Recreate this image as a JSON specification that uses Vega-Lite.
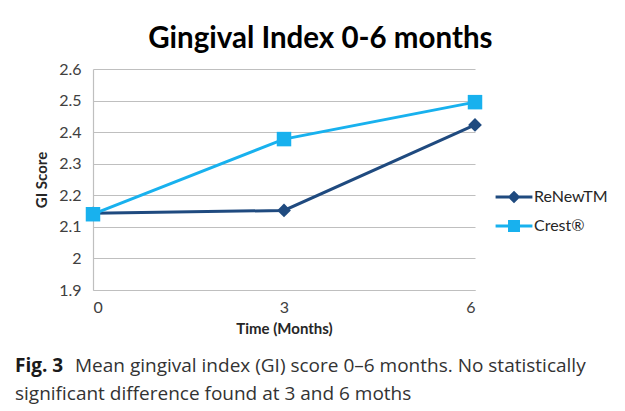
{
  "$schema": "https://vega.github.io/schema/vega-lite/v6.json",
  "background": "white",
  "padding": {"left": 15, "top": 23, "right": 5, "bottom": 5},
  "spacing": 21,
  "resolve": {"legend": {"color": "independent"}},
  "config": {
    "view": {"stroke": null},
    "font": "Lato",
    "axis": {"labelFont": "Lato", "titleFont": "Lato", "labelColor": "#404040", "titleColor": "#262626"}
  },
  "vconcat": [
    {
      "title": {
        "text": "Gingival Index 0-6 months",
        "font": "Lato",
        "fontSize": 29.5,
        "fontWeight": "bold",
        "color": "#000000",
        "anchor": "middle",
        "frame": "bounds",
        "offset": 7,
        "dx": -1
      },
      "width": 382,
      "height": 221,
      "data": {
        "values": [
          {"month": 0, "series": "ReNewTM", "gi": 2.143},
          {"month": 3, "series": "ReNewTM", "gi": 2.152},
          {"month": 6, "series": "ReNewTM", "gi": 2.423},
          {"month": 0, "series": "Crest®", "gi": 2.14},
          {"month": 3, "series": "Crest®", "gi": 2.378},
          {"month": 6, "series": "Crest®", "gi": 2.495}
        ]
      },
      "encoding": {
        "x": {
          "field": "month",
          "type": "quantitative",
          "scale": {"domain": [0, 6], "nice": false, "zero": false},
          "axis": {
            "values": [0, 3, 6],
            "grid": false,
            "ticks": false,
            "domainColor": "#bfbfbf",
            "domainWidth": 1.2,
            "labelFontSize": 16,
            "labelPadding": 9,
            "title": "Time (Months)",
            "titleFontSize": 15,
            "titleFontWeight": "bold",
            "titlePadding": 6
          }
        },
        "y": {
          "field": "gi",
          "type": "quantitative",
          "scale": {"domain": [1.9, 2.6], "nice": false, "zero": false},
          "axis": {
            "values": [1.9, 2.0, 2.1, 2.2, 2.3, 2.4, 2.5, 2.6],
            "format": "~g",
            "grid": true,
            "gridColor": "#bfbfbf",
            "gridWidth": 1.2,
            "ticks": false,
            "domainColor": "#bfbfbf",
            "domainWidth": 1.2,
            "labelFontSize": 16,
            "labelPadding": 12,
            "title": "GI Score",
            "titleFontSize": 15,
            "titleFontWeight": "bold",
            "titlePadding": 9
          }
        },
        "color": {
          "field": "series",
          "type": "nominal",
          "scale": {"domain": ["ReNewTM", "Crest®"], "range": ["#1f4a7f", "#18b1ee"]},
          "legend": {
            "title": null,
            "orient": "none",
            "legendX": 409,
            "legendY": 116,
            "labelFont": "Lato",
            "labelFontSize": 16,
            "labelColor": "#262626",
            "symbolSize": 530,
            "rowPadding": 9,
            "labelOffset": 8,
            "encode": {
              "symbols": {
                "update": {
                  "shape": {"signal": "datum.value === 'ReNewTM' ? 'M-1.6,-0.13H1.6V0.13H-1.6Z M0,-0.55L0.55,0L0,0.55L-0.55,0Z' : 'M-1.6,-0.13H1.6V0.13H-1.6Z M-0.52,-0.52H0.52V0.52H-0.52Z'"},
                  "fill": {"signal": "datum.value === 'ReNewTM' ? '#1f4a7f' : '#18b1ee'"},
                  "stroke": {"value": "transparent"},
                  "strokeWidth": {"value": 0},
                  "opacity": {"value": 1}
                }
              }
            }
          }
        }
      },
      "layer": [
        {"mark": {"type": "line", "strokeWidth": 3}},
        {
          "mark": {"type": "point", "filled": true, "opacity": 1},
          "encoding": {
            "shape": {
              "field": "series",
              "type": "nominal",
              "scale": {"domain": ["ReNewTM", "Crest®"], "range": ["diamond", "square"]},
              "legend": null
            },
            "size": {
              "field": "series",
              "type": "nominal",
              "scale": {"domain": ["ReNewTM", "Crest®"], "range": [190, 210]},
              "legend": null
            }
          }
        }
      ]
    },
    {
      "width": 382,
      "height": 28,
      "data": {
        "values": [
          {"line": 1, "part": "bold", "text": "Fig. 3"},
          {"line": 1, "part": "rest", "text": "Mean gingival index (GI) score 0–6 months. No statistically"},
          {"line": 2, "part": "rest2", "text": "significant difference found at 3 and 6 moths"}
        ]
      },
      "encoding": {
        "y": {"field": "line", "type": "ordinal", "scale": {"type": "point", "padding": 0}, "axis": null},
        "x": {"datum": 0, "type": "quantitative", "scale": {"domain": [0, 1]}, "axis": null},
        "text": {"field": "text"}
      },
      "layer": [
        {
          "transform": [{"filter": "datum.part === 'bold'"}],
          "mark": {"type": "text", "align": "left", "baseline": "middle", "font": "Open Sans", "fontSize": 19, "fontWeight": "bold", "color": "#1a1a1a", "dx": -78}
        },
        {
          "transform": [{"filter": "datum.part === 'rest'"}],
          "mark": {"type": "text", "align": "left", "baseline": "middle", "font": "Open Sans", "fontSize": 19, "color": "#333333", "dx": -18}
        },
        {
          "transform": [{"filter": "datum.part === 'rest2'"}],
          "mark": {"type": "text", "align": "left", "baseline": "middle", "font": "Open Sans", "fontSize": 19, "color": "#333333", "dx": -78}
        }
      ]
    }
  ]
}
